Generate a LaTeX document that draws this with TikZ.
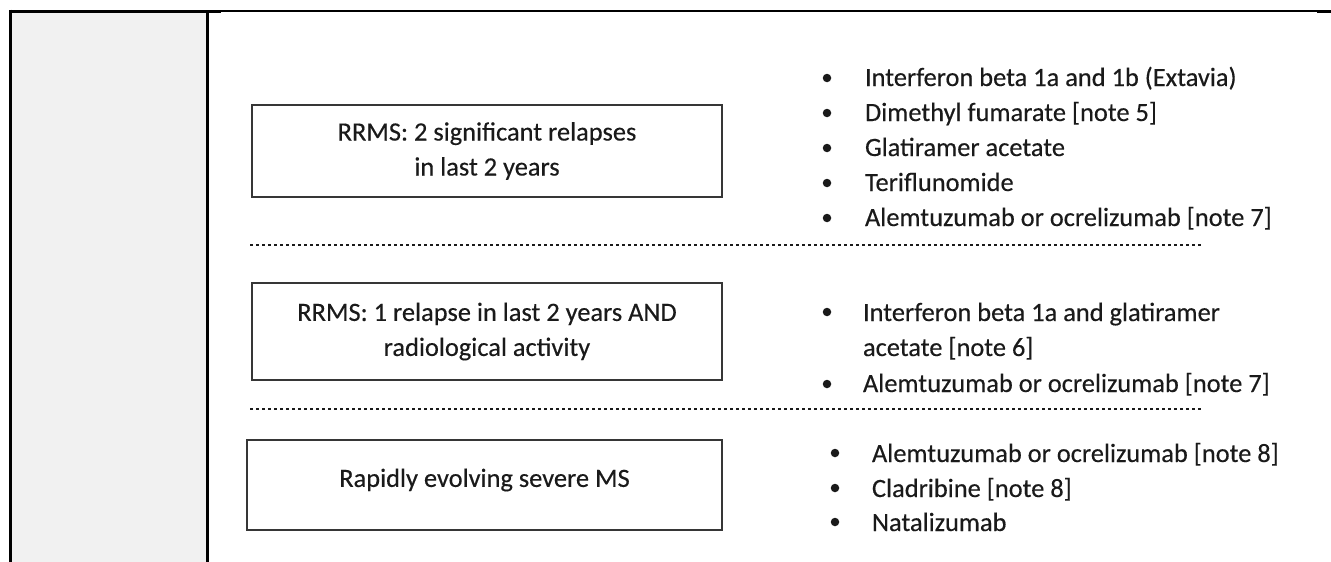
\documentclass[tikz,border=0pt]{standalone}
\usepackage{fontspec}
\setmainfont{Carlito}[FakeBold=0.35]
\definecolor{txt}{HTML}{1A1A1A}
\definecolor{boxc}{HTML}{363636}
\definecolor{sepc}{HTML}{1A1A1A}
\definecolor{cellfill}{HTML}{F1F1F1}
\begin{document}
\begin{tikzpicture}[x=1pt,y=-1pt,
  every node/.style={inner sep=0pt, outer sep=0pt, text=txt, font=\fontsize{26.4}{35}\selectfont},
  cellline/.style={line width=3pt, draw=black},
  box/.style={draw=boxc, line width=2.3pt, align=center, anchor=center},
  item/.style={anchor=base west},
  bul/.style={circle, fill=txt, minimum size=8.5pt},
  sepline/.style={draw=sepc, line width=2.8pt, dash pattern=on 2.6pt off 3.4pt}]
\useasboundingbox (0,0) rectangle (1331,562);
% table cell
\fill[cellfill] (10,11) rectangle (207,562);
\draw[line width=1.2pt] (207,11) -- (1331,11);
\draw[cellline] (9,11) -- (221,11);
\draw[cellline] (1317,11) -- (1331,11);
\draw[cellline] (10.5,9.5) -- (10.5,562);
\draw[cellline] (207.5,11) -- (207.5,562);
% boxes
\node[box, minimum width=470pt, minimum height=92pt] (b1) at (487,151) {RRMS: 2 significant relapses\\in last 2 years};
\node[box, minimum width=470pt, minimum height=97pt] (b2) at (487,331.5) {RRMS: 1 relapse in last 2 years AND\\radiological activity};
\node[box, minimum width=475pt, minimum height=90pt] (b3) at (484.5,485) {};
\node (b3t) at (484.5,480) {Rapidly evolving severe MS};
% separators
\coordinate (s1a) at (250,245); \coordinate (s1b) at (1203,245);
\coordinate (s2a) at (250,409); \coordinate (s2b) at (1203,409);
\draw[sepline] (s1a) -- (s1b);
\draw[sepline] (s2a) -- (s2b);
% list 1
\node[bul] (p11) at (827,78) {};
\node[item] (t11) at (865,86) {Interferon beta 1a and 1b (Extavia)};
\node[bul] (p12) at (827,113) {};
\node[item] (t12) at (865,121) {Dimethyl fumarate [note 5]};
\node[bul] (p13) at (827,148) {};
\node[item] (t13) at (865,156) {Glatiramer acetate};
\node[bul] (p14) at (827,183) {};
\node[item] (t14) at (865,191) {Teriflunomide};
\node[bul] (p15) at (827,218) {};
\node[item] (t15) at (865,226) {Alemtuzumab or ocrelizumab [note 7]};
% list 2
\node[bul] (p21) at (827,312) {};
\node[item] (t21) at (863,321) {Interferon beta 1a and glatiramer};
\node[item] (t21b) at (863,356) {acetate [note 6]};
\node[bul] (p22) at (827,384) {};
\node[item] (t22) at (863,392) {Alemtuzumab or ocrelizumab [note 7]};
% list 3
\node[bul] (p31) at (835,453) {};
\node[item] (t31) at (872,462) {Alemtuzumab or ocrelizumab [note 8]};
\node[bul] (p32) at (835,488) {};
\node[item] (t32) at (872,497) {Cladribine [note 8]};
\node[bul] (p33) at (835,522) {};
\node[item] (t33) at (872,531) {Natalizumab};
\end{tikzpicture}
\end{document}
